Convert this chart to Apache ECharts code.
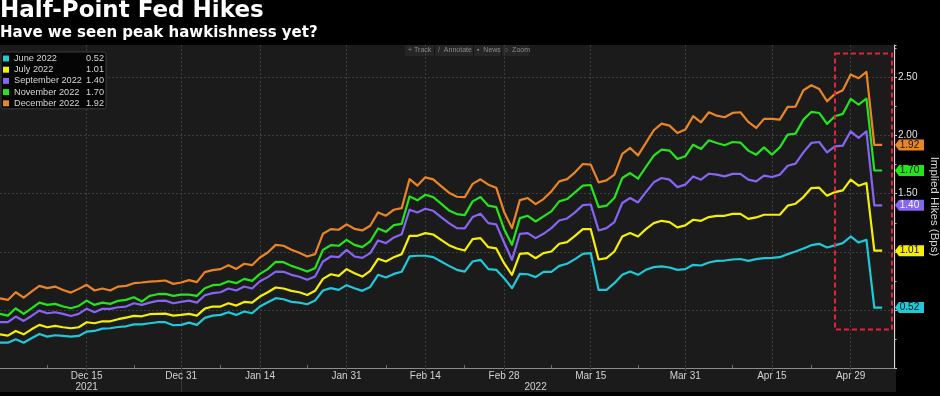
<!DOCTYPE html>
<html><head><meta charset="utf-8">
<script src="https://cdn.jsdelivr.net/npm/echarts@6/dist/echarts.min.js"></script>
<style>html,body{margin:0;padding:0;background:#000;}#c{width:940px;height:396px;}</style>
</head><body><div id="c"></div>
<script>
const dates = ['Nov 30','Dec 1','Dec 2','Dec 3','Dec 6','Dec 7','Dec 8','Dec 9','Dec 10','Dec 13','Dec 14','Dec 15','Dec 16','Dec 17','Dec 20','Dec 21','Dec 22','Dec 23','Dec 24','Dec 27','Dec 28','Dec 29','Dec 30','Dec 31','Jan 3','Jan 4','Jan 5','Jan 6','Jan 7','Jan 10','Jan 11','Jan 12','Jan 13','Jan 14','Jan 17','Jan 18','Jan 19','Jan 20','Jan 21','Jan 24','Jan 25','Jan 26','Jan 27','Jan 28','Jan 31','Feb 1','Feb 2','Feb 3','Feb 4','Feb 7','Feb 8','Feb 9','Feb 10','Feb 11','Feb 14','Feb 15','Feb 16','Feb 17','Feb 18','Feb 21','Feb 22','Feb 23','Feb 24','Feb 25','Feb 28','Mar 1','Mar 2','Mar 3','Mar 4','Mar 7','Mar 8','Mar 9','Mar 10','Mar 11','Mar 14','Mar 15','Mar 16','Mar 17','Mar 18','Mar 21','Mar 22','Mar 23','Mar 24','Mar 25','Mar 28','Mar 29','Mar 30','Mar 31','Apr 1','Apr 4','Apr 5','Apr 6','Apr 7','Apr 8','Apr 11','Apr 12','Apr 13','Apr 14','Apr 15','Apr 18','Apr 19','Apr 20','Apr 21','Apr 22','Apr 25','Apr 26','Apr 27','Apr 28','Apr 29','May 2','May 3','May 4','May 5'];
const tickLabels = ['Dec 15','Dec 31','Jan 14','Jan 31','Feb 14','Feb 28','Mar 15','Mar 31','Apr 15','Apr 29'];
const minorTickDates = ['Dec 8','Dec 23','Jan 7','Jan 24','Feb 7','Feb 21','Mar 8','Mar 23','Apr 8','Apr 22'];
const yearLabels = ['2021','2022'];
const yearLabelAt = ['Dec 15','Mar 4'];
const yearBreakAt = 'Dec 31';

const seriesNames = ['June 2022','July 2022','September 2022','November 2022','December 2022'];
const seriesColors = ['#1fc9d8','#f4ef06','#8565f2','#25e41c','#ea8525'];

const jun22 = [0.218,0.218,0.247,0.218,0.256,0.293,0.270,0.282,0.276,0.270,0.276,0.313,0.319,0.339,0.342,0.353,0.359,0.376,0.376,0.385,0.394,0.394,0.368,0.371,0.391,0.371,0.431,0.451,0.457,0.480,0.457,0.486,0.471,0.529,0.566,0.601,0.592,0.569,0.563,
 0.549,0.580,0.667,0.687,0.672,0.713,0.687,0.664,0.698,0.802,0.779,0.810,0.828,0.960,0.966,0.966,0.954,0.917,0.879,0.845,0.830,0.917,0.931,0.851,0.845,0.773,0.687,0.810,0.807,0.782,0.828,0.828,0.879,0.897,0.937,0.983,0.989,0.672,
 0.672,0.730,0.802,0.830,0.802,0.845,0.868,0.874,0.865,0.845,0.851,0.888,0.882,0.908,0.922,0.925,0.934,0.938,
 0.922,0.937,0.945,0.948,0.954,0.980,1.003,1.029,1.057,1.069,1.037,1.055,1.075,1.132,1.080,1.103,0.52,0.52];
const jul22 = [0.290,0.279,0.319,0.290,0.333,0.371,0.351,0.362,0.351,0.342,0.351,0.394,0.385,0.402,0.402,0.420,0.434,0.448,0.445,0.463,0.466,0.468,0.451,0.457,0.466,0.451,0.511,0.529,0.529,0.557,0.537,0.569,0.563,0.615,0.652,0.693,0.684,0.664,0.652,
 0.629,0.664,0.767,0.807,0.793,0.851,0.816,0.787,0.836,0.940,0.917,0.954,0.980,1.138,1.138,1.161,1.149,1.103,1.057,1.029,1.011,1.109,1.118,1.040,1.029,0.902,0.802,0.983,0.989,0.945,0.989,1.003,1.069,1.083,1.138,1.195,1.195,0.934,
 0.945,1.003,1.132,1.161,1.132,1.195,1.247,1.267,1.256,1.210,1.227,1.276,1.267,1.299,1.310,1.310,1.327,1.326,
 1.284,1.296,1.319,1.319,1.319,1.397,1.414,1.471,1.549,1.552,1.483,1.514,1.529,1.621,1.569,1.592,1.01,1.01];
const sep22 = [0.394,0.394,0.443,0.405,0.448,0.494,0.471,0.480,0.466,0.448,0.466,0.511,0.480,0.509,0.509,0.523,0.529,0.557,0.543,0.563,0.578,0.580,0.557,0.569,0.580,0.563,0.626,0.644,0.652,0.684,0.667,0.701,0.684,0.747,0.782,0.830,0.828,0.802,0.785,
 0.759,0.787,0.917,0.960,0.954,1.017,0.960,0.948,0.989,1.098,1.075,1.124,1.152,1.362,1.339,1.371,1.353,1.299,1.247,1.204,1.201,1.299,1.328,1.247,1.236,1.080,0.931,1.155,1.161,1.118,1.155,1.204,1.270,1.287,1.339,1.402,1.407,1.184,
 1.204,1.256,1.420,1.463,1.425,1.514,1.598,1.635,1.621,1.557,1.578,1.649,1.621,1.672,1.664,1.649,1.671,1.671,
 1.621,1.606,1.655,1.644,1.664,1.741,1.759,1.856,1.937,1.945,1.856,1.908,1.914,2.037,1.980,2.037,1.40,1.40];
const nov22 = [0.466,0.451,0.514,0.466,0.514,0.563,0.543,0.552,0.529,0.514,0.534,0.580,0.543,0.563,0.552,0.578,0.586,0.609,0.572,0.621,0.635,0.638,0.621,0.632,0.632,0.621,0.687,0.713,0.718,0.747,0.730,0.767,0.750,0.810,0.851,0.914,0.911,0.879,0.857,
 0.830,0.859,1.017,1.057,1.052,1.103,1.060,1.040,1.089,1.201,1.172,1.230,1.241,1.477,1.443,1.491,1.471,1.414,1.356,1.325,1.316,1.434,1.471,1.397,1.385,1.195,1.060,1.290,1.310,1.261,1.305,1.348,1.434,1.454,1.511,1.569,1.575,1.385,
 1.397,1.463,1.635,1.678,1.629,1.730,1.828,1.879,1.871,1.799,1.822,1.922,1.885,1.960,1.937,1.917,1.945,1.940,
 1.871,1.836,1.899,1.836,1.899,2.009,2.017,2.138,2.204,2.195,2.101,2.167,2.187,2.316,2.267,2.319,1.70,1.70];
const dec22 = [0.600,0.586,0.652,0.606,0.658,0.707,0.687,0.701,0.672,0.649,0.681,0.716,0.667,0.684,0.667,0.701,0.707,0.730,0.736,0.744,0.747,0.753,0.724,0.736,0.756,0.739,0.825,0.842,0.851,0.885,0.853,0.897,0.885,0.951,0.994,1.060,1.052,1.017,0.992,
 0.960,0.980,1.155,1.195,1.190,1.236,1.198,1.184,1.224,1.339,1.311,1.362,1.376,1.626,1.570,1.641,1.624,1.565,1.509,1.474,1.470,1.585,1.624,1.578,1.552,1.343,1.204,1.445,1.463,1.411,1.454,1.520,1.606,1.626,1.684,1.756,1.750,1.598,
 1.615,1.664,1.842,1.894,1.830,1.937,2.046,2.103,2.086,2.023,2.052,2.167,2.115,2.201,2.172,2.158,2.195,2.201,
 2.118,2.066,2.144,2.144,2.138,2.247,2.250,2.391,2.434,2.402,2.296,2.359,2.391,2.526,2.494,2.549,1.92,1.92];
const seriesValues = [jun22, jul22, sep22, nov22, dec22];
const yTickLabels = ['0.50','1.00','1.50','2.00','2.50'];

const tagText = ['#111','#111','#f2f2f2','#111','#111'];

const xMax = dates.length - 1 + 1.5;
const yMax = 2.78;
const idx = d => dates.indexOf(d);
const tickIdx = tickLabels.map(idx);
const yearIdx = yearLabelAt.map(idx);
const labelIdx = tickIdx.concat(yearIdx.filter(i => tickIdx.indexOf(i) < 0));
const lastVal = arr => arr[arr.length - 1];

const chart = echarts.init(document.getElementById('c'), null, {renderer: 'canvas', width: 940, height: 396});

const tagPath = 'path://M0,5.5L4,0L29,0L29,11L4,11Z';

const series = seriesNames.map((name, s) => ({
  type: 'line',
  name: name,
  xAxisIndex: 0,
  yAxisIndex: 0,
  data: seriesValues[s].map((v, i) => [i, v]),
  showSymbol: false,
  symbol: 'none',
  color: seriesColors[s],
  lineStyle: {width: 2.2, color: seriesColors[s], join: 'round'},
  itemStyle: {color: seriesColors[s]},
  z: 3,
  markPoint: {
    silent: true,
    symbol: tagPath,
    symbolSize: [29, 11],
    symbolOffset: [15.5, 0],
    itemStyle: {color: seriesColors[s]},
    label: {show: true, position: 'inside', color: tagText[s], fontSize: 10, fontFamily: 'Liberation Sans',
      formatter: p => p.value.toFixed(2)},
    data: [{coord: [xMax, lastVal(seriesValues[s])], value: lastVal(seriesValues[s])}]
  }
}));

const option = {
  backgroundColor: '#000',
  animation: false,
  textStyle: {fontFamily: 'Liberation Sans'},
  title: [
    {text: 'Half-Point Fed Hikes', left: 0, top: -0.5, padding: 0,
     textStyle: {color: '#ffffff', fontFamily: 'DejaVu Sans', fontWeight: 'bold', fontSize: 23, lineHeight: 23}},
    {text: 'Have we seen peak hawkishness yet?', left: 0, top: 25.7, padding: 0,
     textStyle: {color: '#ffffff', fontFamily: 'DejaVu Sans', fontWeight: 'bold', fontSize: 15, lineHeight: 15}}
  ],
  legend: {
    orient: 'vertical', left: 1, top: 52,
    icon: 'rect', itemWidth: 6, itemHeight: 6, itemGap: 2.2,
    padding: [2, 2, 1, 2],
    backgroundColor: '#050505', borderColor: '#3d3d3d', borderWidth: 1, borderRadius: 2,
    selectedMode: false,
    data: seriesNames,
    formatter: name => '{n|' + name + '}{v|' + lastVal(seriesValues[seriesNames.indexOf(name)]).toFixed(2) + '}',
    textStyle: {color: '#d6d6d6', fontSize: 9.2, fontFamily: 'Liberation Sans',
      rich: {
        n: {width: 71, fontSize: 9.2, color: '#d6d6d6', fontFamily: 'Liberation Sans'},
        v: {width: 19, align: 'right', fontSize: 9.2, color: '#d6d6d6', fontFamily: 'Liberation Sans'}
      }}
  },
  grid: {left: 0, right: 46, top: 45, bottom: 28, show: false, containLabel: false, outerBoundsMode: 'none'},
  xAxis: [
    {type: 'value', min: 0, max: xMax, position: 'bottom',
     axisLine: {show: true, lineStyle: {color: '#8c8c8c', width: 1}},
     axisTick: {show: true, customValues: tickIdx, length: 3, lineStyle: {color: '#4a4a4a'}},
     axisLabel: {show: true, customValues: labelIdx, color: '#d2d2d2', fontSize: 10, margin: 2, lineHeight: 11.5,
       fontFamily: 'Liberation Sans',
       formatter: v => {
         const i = Math.round(v);
         let s = tickIdx.indexOf(i) >= 0 ? dates[i] : '';
         const y = yearIdx.indexOf(i);
         if (y >= 0) s += '\n' + yearLabels[y];
         return s;
       }},
     splitLine: {show: true, lineStyle: {color: '#3e3e3e', width: 1, type: [2, 2]}}},
    {type: 'value', min: 0, max: xMax, position: 'bottom',
     axisLine: {show: false}, axisLabel: {show: false}, splitLine: {show: false},
     axisTick: {show: true, inside: true, customValues: minorTickDates.map(idx), length: 3, lineStyle: {color: '#6a6a6a'}}},
    {type: 'value', min: 0, max: xMax, position: 'bottom',
     axisLine: {show: false}, axisLabel: {show: false}, splitLine: {show: false},
     axisTick: {show: true, inside: false, customValues: [idx(yearBreakAt)], length: 24, lineStyle: {color: '#3a3a3a'}}}
  ],
  yAxis: [
    {type: 'value', position: 'right', min: 0, max: yMax, interval: 0.5,
     axisLine: {show: true, onZero: false, lineStyle: {color: '#d8d8d8', width: 1}},
     axisTick: {show: true, length: 3, lineStyle: {color: '#d8d8d8'}},
     axisLabel: {show: true, color: '#e4e4e4', fontSize: 10, margin: 4, fontFamily: 'Liberation Sans',
       showMaxLabel: false,
       formatter: v => { const s = v.toFixed(2); return yTickLabels.indexOf(s) >= 0 ? s : ''; }},
     splitLine: {show: true, showMaxLine: false, lineStyle: {color: '#3e3e3e', width: 1, type: [2, 2]}},
     name: 'Implied Hikes (Bps)', nameLocation: 'middle', nameRotate: -90, nameGap: 29,
     nameTextStyle: {color: '#d4d4d4', fontSize: 11.5, fontFamily: 'Liberation Sans'}},
    {type: 'value', position: 'right', min: 0, max: yMax, interval: 0.25,
     axisLine: {show: false, onZero: false}, axisLabel: {show: false}, splitLine: {show: false},
     axisTick: {show: true, length: 2.5, lineStyle: {color: '#bdbdbd'}}}
  ],
  graphic: [
    {type: 'rect', z: -10, silent: true, shape: {x: 0, y: 45, width: 896, height: 347}, style: {fill: '#1b1b1b'}},
    {type: 'group', left: 405, top: 45, silent: true, z: 5, children: [
      {type: 'rect', shape: {x: 0, y: 0, width: 124, height: 11}, style: {fill: '#262626'}},
      {type: 'rect', shape: {x: 29, y: 0, width: 1, height: 11}, style: {fill: '#141414'}},
      {type: 'rect', shape: {x: 68, y: 0, width: 1, height: 11}, style: {fill: '#141414'}},
      {type: 'rect', shape: {x: 96, y: 0, width: 1, height: 11}, style: {fill: '#141414'}},
      {type: 'text', x: 3, y: 5.5, style: {text: '+ Track', fill: '#8a8a8a', font: '7px "Liberation Sans"', verticalAlign: 'middle'}},
      {type: 'text', x: 33, y: 5.5, style: {text: '/  Annotate', fill: '#8a8a8a', font: '7px "Liberation Sans"', verticalAlign: 'middle'}},
      {type: 'text', x: 72, y: 5.5, style: {text: '\u25AA  News', fill: '#8a8a8a', font: '7px "Liberation Sans"', verticalAlign: 'middle'}},
      {type: 'text', x: 99, y: 5.5, style: {text: '\u25CB  Zoom', fill: '#8a8a8a', font: '7px "Liberation Sans"', verticalAlign: 'middle'}}
    ]},
    {type: 'rect', z: 20, silent: true, shape: {x: 835, y: 53.5, width: 57, height: 276},
     style: {fill: 'none', stroke: '#e8213b', lineWidth: 2, lineDash: [5, 3]}}
  ],
  series: series
};
chart.setOption(option);
</script></body></html>
